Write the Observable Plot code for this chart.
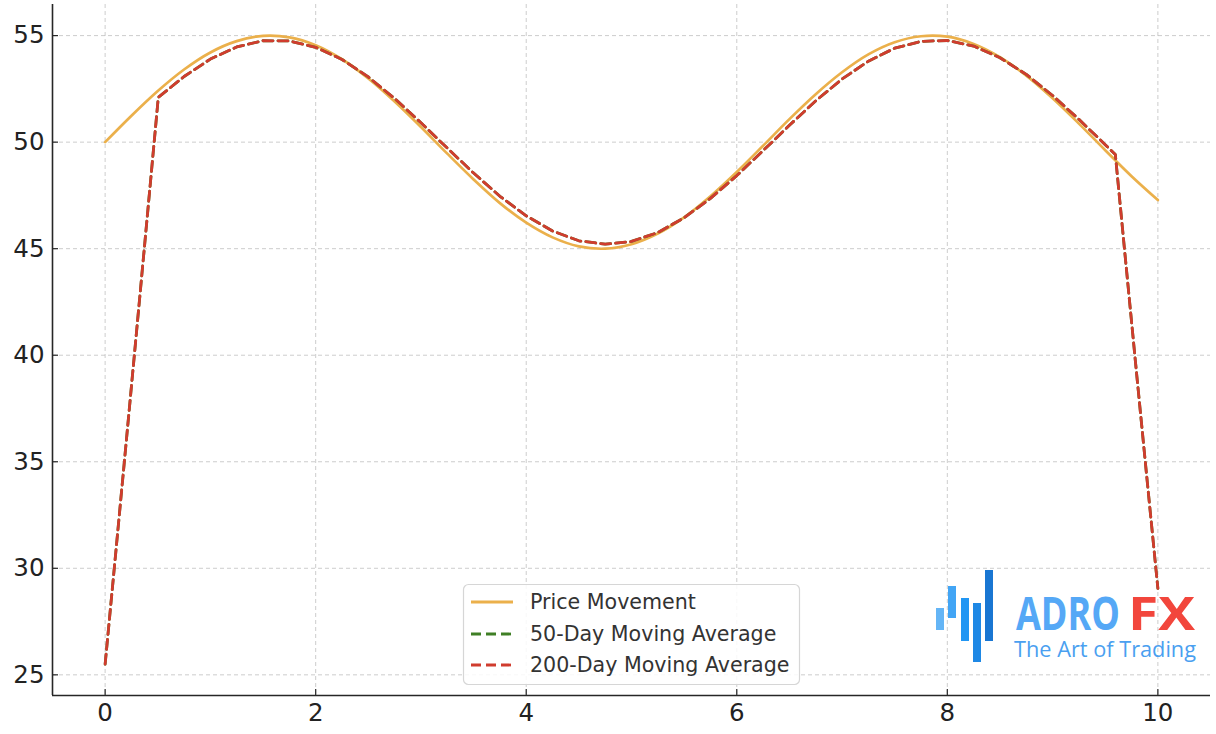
<!DOCTYPE html>
<html>
<head>
<meta charset="utf-8">
<script src="https://cdn.jsdelivr.net/npm/d3@7"></script>
<script src="https://cdn.jsdelivr.net/npm/@observablehq/plot@0.6"></script>
<style>
  html, body { margin: 0; padding: 0; background: #fff; }
  #chart { width: 1216px; height: 734px; }
</style>
</head>
<body>
<div id="chart"></div>
<script>
// ---- data ----
const xTicks = [0, 2, 4, 6, 8, 10];
const yTicks = [25, 30, 35, 40, 45, 50, 55];

const priceX = [0, 0.25, 0.5, 0.75, 1, 1.25, 1.5, 1.75, 2, 2.25, 2.5, 2.75, 3, 3.25, 3.5, 3.75, 4, 4.25, 4.5, 4.75,
  5, 5.25, 5.5, 5.75, 6, 6.25, 6.5, 6.75, 7, 7.25, 7.5, 7.75, 8, 8.25, 8.5, 8.75, 9, 9.25, 9.5, 9.75, 10];
const priceY = [50.00, 51.24, 52.40, 53.41, 54.21, 54.74, 54.99, 54.92, 54.55, 53.89, 52.99, 51.91, 50.71, 49.46, 48.25, 47.14,
  46.22, 45.53, 45.11, 45.00, 45.21, 45.71, 46.47, 47.46, 48.60, 49.83, 51.08, 52.25, 53.28, 54.12, 54.69, 54.97, 54.95,
  54.61, 53.99, 53.12, 52.06, 50.87, 49.62, 48.40, 47.28];

const maX = [0, 0.101, 0.202, 0.303, 0.404, 0.505, 0.75, 1, 1.25, 1.5, 1.75, 2, 2.25, 2.5, 2.75, 3, 3.25, 3.5, 3.75, 4,
  4.25, 4.5, 4.75, 5, 5.25, 5.5, 5.75, 6, 6.25, 6.5, 6.75, 7, 7.25, 7.5, 7.75, 8, 8.25, 8.5, 8.75, 9, 9.25, 9.5,
  9.596, 9.697, 9.798, 9.899, 10];
const ma50 = [25.50, 30.74, 36.02, 41.35, 46.71, 52.10, 53.08, 53.90, 54.47, 54.76, 54.75, 54.45, 53.88, 53.06, 52.05, 50.91,
  49.72, 48.55, 47.46, 46.54, 45.83, 45.37, 45.21, 45.34, 45.76, 46.45, 47.36, 48.43, 49.60, 50.79, 51.94, 52.96, 53.80,
  54.41, 54.73, 54.77, 54.51, 53.96, 53.18, 52.19, 51.07, 49.88, 49.42, 44.26, 39.14, 34.08, 29.06];
const ma200 = [25.50, 30.74, 36.02, 41.35, 46.71, 52.10, 53.08, 53.90, 54.47, 54.76, 54.75, 54.45, 53.88, 53.06, 52.05, 50.91,
  49.72, 48.55, 47.46, 46.54, 45.83, 45.37, 45.21, 45.34, 45.76, 46.45, 47.36, 48.43, 49.60, 50.79, 51.94, 52.96, 53.80,
  54.41, 54.73, 54.77, 54.51, 53.96, 53.18, 52.19, 51.07, 49.88, 49.42, 44.26, 39.14, 34.08, 29.06];

const seriesNames = ["Price Movement", "50-Day Moving Average", "200-Day Moving Average"];
const seriesColors = ["#ebb04b", "#3f7f25", "#d03c2e"];

// ---- tables ----
const priceData = priceX.map((x, i) => ({x, y: priceY[i]}));
const ma50Data = maX.map((x, i) => ({x, y: ma50[i]}));
const ma200Data = maX.map((x, i) => ({x, y: ma200[i]}));

const W = 1216, H = 734;
const mL = 52, mR = 6, mT = 4, mB = 39;
const xDomain = [-0.5, 10.5];
const yDomain = [24.03, 56.46];
const innerW = W - mL - mR, innerH = H - mT - mB;

const gridStyle = {stroke: "#b8b8b8", strokeOpacity: 0.7, strokeDasharray: "4,3", strokeWidth: 1};
const tickFont = {fontSize: 24.5, fontFamily: "DejaVu Sans", fill: "#222"};

const chart = Plot.plot({
  width: W, height: H,
  marginLeft: mL, marginRight: mR, marginTop: mT, marginBottom: mB,
  style: {fontFamily: "'DejaVu Sans', sans-serif", background: "#fff", color: "#222", overflow: "visible"},
  x: {domain: xDomain, axis: null},
  y: {domain: yDomain, axis: null},
  marks: [
    Plot.gridX(xTicks, gridStyle),
    Plot.gridY(yTicks, gridStyle),
    Plot.tickX(xTicks, {x: d => d, stroke: "#262626", strokeWidth: 1.2, insetTop: innerH - 6}),
    Plot.tickY(yTicks, {y: d => d, stroke: "#262626", strokeWidth: 1.2, insetRight: innerW - 6}),
    // tick labels
    Plot.text(xTicks, {x: d => d, y: yDomain[0], text: d => String(d), lineAnchor: "top", dy: 8, ...tickFont}),
    Plot.text(yTicks, {x: xDomain[0], y: d => d, text: d => String(d), textAnchor: "end", dx: -8, ...tickFont}),
    // spines
    Plot.ruleX([xDomain[0]], {stroke: "#262626", strokeWidth: 1.6}),
    Plot.ruleY([yDomain[0]], {stroke: "#262626", strokeWidth: 1.6}),
    // series
    Plot.line(priceData, {x: "x", y: "y", stroke: seriesColors[0], strokeWidth: 2.7, curve: "catmull-rom"}),
    Plot.line(ma50Data, {x: "x", y: "y", stroke: seriesColors[1], strokeWidth: 2.8, strokeDasharray: "10,5", curve: "linear"}),
    Plot.line(ma200Data, {x: "x", y: "y", stroke: seriesColors[2], strokeWidth: 2.8, strokeDasharray: "10,5", curve: "linear"})
  ]
});

document.getElementById("chart").appendChild(chart);
const svg = d3.select(chart);

// ---- legend ----
const lg = svg.append("g").attr("font-family", "'DejaVu Sans', sans-serif").attr("text-anchor", "start");
lg.append("rect").attr("x", 463.5).attr("y", 584.5).attr("width", 336).attr("height", 100)
  .attr("rx", 5).attr("fill", "#fff").attr("fill-opacity", 0.85).attr("stroke", "#d6d6d6").attr("stroke-width", 1.2);
const rowsY = [602, 634, 665];
seriesNames.forEach((name, i) => {
  lg.append("line").attr("x1", 471).attr("x2", 513).attr("y1", rowsY[i]).attr("y2", rowsY[i])
    .attr("stroke", seriesColors[i]).attr("stroke-width", 2.8)
    .attr("stroke-dasharray", i === 0 ? null : "10,5");
  lg.append("text").attr("x", 530).attr("y", rowsY[i]).attr("dy", "0.36em")
    .attr("font-size", 20.6).attr("fill", "#333").attr("text-anchor", "start").text(name);
});

// ---- watermark logo ----
const logo = svg.append("g").attr("text-anchor", "start");
const bars = [
  {x: 936, y: 608, h: 22, c: "#64b5f6"},
  {x: 948, y: 586, h: 32, c: "#42a5f5"},
  {x: 961, y: 598, h: 43, c: "#2196f3"},
  {x: 973, y: 603, h: 59, c: "#1e88e5"},
  {x: 985, y: 570, h: 71, c: "#1976d2"}
];
bars.forEach(b => logo.append("rect").attr("x", b.x).attr("y", b.y).attr("width", 8).attr("height", b.h).attr("fill", b.c));
logo.append("text").attr("x", 1016).attr("y", 630).attr("font-family", "'Open Sans', sans-serif").attr("font-weight", 700)
  .attr("font-size", 46).attr("fill", "#55a8f6").attr("text-anchor", "start")
  .attr("textLength", 104).attr("lengthAdjust", "spacingAndGlyphs").text("ADRO");
logo.append("text").attr("x", 1128).attr("y", 630).attr("font-family", "'Open Sans', sans-serif").attr("font-weight", 700)
  .attr("font-size", 46).attr("fill", "#f2463c").attr("text-anchor", "start")
  .attr("textLength", 67).attr("lengthAdjust", "spacingAndGlyphs").text("FX");
logo.append("text").attr("x", 1014).attr("y", 657).attr("font-family", "'Open Sans', sans-serif").attr("font-weight", 400)
  .attr("font-size", 21).attr("fill", "#4a9ff0").attr("text-anchor", "start")
  .attr("textLength", 182).attr("lengthAdjust", "spacingAndGlyphs").text("The Art of Trading");
</script>
</body>
</html>
